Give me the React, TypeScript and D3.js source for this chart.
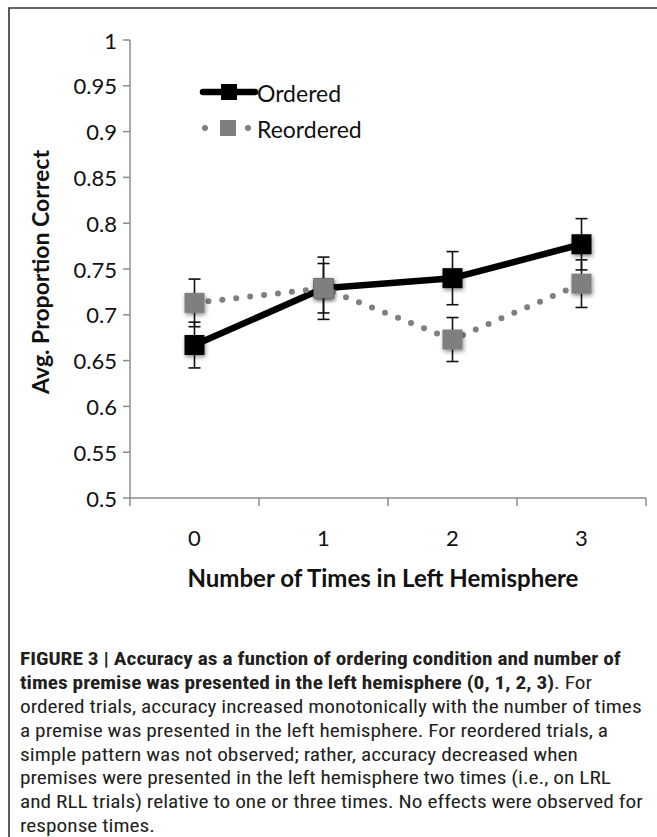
import { useEffect } from 'react';
import * as d3 from 'd3';

// chart data
const categories: string[] = ['0', '1', '2', '3'];
const orderedValues: number[] = [0.667, 0.729, 0.74, 0.777];
const orderedErrors: number[] = [0.025, 0.034, 0.029, 0.028];
const reorderedValues: number[] = [0.713, 0.729, 0.673, 0.734];
const reorderedErrors: number[] = [0.026, 0.027, 0.024, 0.026];
const yTicks: number[] = [0.5, 0.55, 0.6, 0.65, 0.7, 0.75, 0.8, 0.85, 0.9, 0.95, 1];

const captionLines: { bold: string; normal: string }[] = [
	{ bold: 'FIGURE 3 | Accuracy as a function of ordering condition and number of', normal: '' },
	{ bold: 'times premise was presented in the left hemisphere (0, 1, 2, 3)', normal: '. For' },
	{ bold: '', normal: 'ordered trials, accuracy increased monotonically with the number of times' },
	{ bold: '', normal: 'a premise was presented in the left hemisphere. For reordered trials, a' },
	{ bold: '', normal: 'simple pattern was not observed; rather, accuracy decreased when' },
	{ bold: '', normal: 'premises were presented in the left hemisphere two times (i.e., on LRL' },
	{ bold: '', normal: 'and RLL trials) relative to one or three times. No effects were observed for' },
	{ bold: '', normal: 'response times.' }
];

const W = 657;
const H = 837;
const plot = { left: 130, right: 646, top: 40, bottom: 498 };
const chartFont = 'Lato, "Open Sans", sans-serif';
const captionFont = '"Liberation Sans Narrow", "Roboto Condensed", "Liberation Sans", sans-serif';

function App() {
	useEffect(() => {
		document.body.style.margin = '0';
	}, []);

	const x = d3.scaleBand<string>().domain(categories).range([plot.left, plot.right]);
	const y = d3.scaleLinear().domain([0.5, 1]).range([plot.bottom, plot.top]);
	const cx = (c: string) => (x(c) ?? 0) + x.bandwidth() / 2;

	const line = d3
		.line<number>()
		.x((_, i) => cx(categories[i]))
		.y((d) => y(d));

	const marker = 20;
	const cap = 6;

	const errorBars = (vals: number[], errs: number[]) =>
		vals.map((v, i) => {
			const px = cx(categories[i]);
			const y1 = y(v + errs[i]);
			const y2 = y(v - errs[i]);
			return (
				<g key={i} stroke='#111' strokeWidth={1.6}>
					<line x1={px} x2={px} y1={y1} y2={y2} />
					<line x1={px - cap} x2={px + cap} y1={y1} y2={y1} />
					<line x1={px - cap} x2={px + cap} y1={y2} y2={y2} />
				</g>
			);
		});

	const squares = (vals: number[], fill: string) =>
		vals.map((v, i) => (
			<rect
				key={i}
				x={cx(categories[i]) - marker / 2}
				y={y(v) - marker / 2}
				width={marker}
				height={marker}
				fill={fill}
				filter='url(#shadow)'
			/>
		));

	const tickEdges = [...categories.map((c) => x(c) ?? 0), plot.right];

	return (
		<svg width={W} height={H} style={{ display: 'block' }}>
			<defs>
				<filter id='shadow' x='-50%' y='-50%' width='200%' height='200%'>
					<feDropShadow dx='1' dy='2' stdDeviation='2' floodColor='#000' floodOpacity='0.45' />
				</filter>
			</defs>
			<rect x={0} y={0} width={W} height={H} fill='#fff' />
			{/* frame */}
			<path d={`M9,${H + 2} V8 H${W + 2}`} fill='none' stroke='#333' strokeWidth={1.6} />

			{/* y axis */}
			<line x1={plot.left} x2={plot.left} y1={plot.top} y2={plot.bottom} stroke='#8c8c8c' strokeWidth={1.5} />
			{yTicks.map((t) => (
				<g key={t}>
					<line x1={plot.left - 7} x2={plot.left} y1={y(t)} y2={y(t)} stroke='#8c8c8c' strokeWidth={1.5} />
					<text
						x={plot.left - 13}
						y={y(t)}
						textAnchor='end'
						dominantBaseline='central'
						fontFamily={chartFont}
						fontSize={22}
						fill='#111'
					>
						{String(t)}
					</text>
				</g>
			))}
			<text
				transform='translate(40, 272) rotate(-90)'
				textAnchor='middle'
				dominantBaseline='central'
				fontFamily={chartFont}
				fontWeight='bold'
				fontSize={23}
				fill='#111'
			>
				Avg. Proportion Correct
			</text>

			{/* x axis */}
			<line x1={plot.left} x2={plot.right} y1={plot.bottom} y2={plot.bottom} stroke='#8c8c8c' strokeWidth={1.5} />
			{tickEdges.map((e, i) => (
				<line key={i} x1={e} x2={e} y1={plot.bottom} y2={plot.bottom + 8} stroke='#8c8c8c' strokeWidth={1.5} />
			))}
			{categories.map((c) => (
				<text
					key={c}
					x={cx(c)}
					y={537}
					textAnchor='middle'
					dominantBaseline='central'
					fontFamily={chartFont}
					fontSize={22}
					fill='#111'
				>
					{c}
				</text>
			))}
			<text
				x={383}
				y={577}
				textAnchor='middle'
				dominantBaseline='central'
				fontFamily={chartFont}
				fontWeight='bold'
				fontSize={24}
				fill='#111'
			>
				Number of Times in Left Hemisphere
			</text>

			{/* ordered series */}
			<path d={line(orderedValues) ?? ''} fill='none' stroke='#000' strokeWidth={6.5} strokeLinejoin='round' />
			{errorBars(orderedValues, orderedErrors)}
			{squares(orderedValues, '#000')}

			{/* reordered series */}
			<path
				d={line(reorderedValues) ?? ''}
				fill='none'
				stroke='#7f7f7f'
				strokeWidth={6}
				strokeLinecap='round'
				strokeDasharray='0 14'
			/>
			{errorBars(reorderedValues, reorderedErrors)}
			{squares(reorderedValues, '#7f7f7f')}

			{/* legend */}
			<g>
				<line x1={203} x2={255} y1={92} y2={92} stroke='#000' strokeWidth={6.5} strokeLinecap='round' />
				<rect x={221} y={84} width={16} height={16} fill='#000' />
				<text x={257} y={93} dominantBaseline='central' fontFamily={chartFont} fontSize={23} fill='#111'>
					Ordered
				</text>
				<line
					x1={205}
					x2={249}
					y1={128}
					y2={128}
					stroke='#7f7f7f'
					strokeWidth={6}
					strokeLinecap='round'
					strokeDasharray='0 43'
				/>
				<rect x={220} y={120} width={16} height={16} fill='#7f7f7f' />
				<text x={257} y={129} dominantBaseline='central' fontFamily={chartFont} fontSize={23} fill='#111'>
					Reordered
				</text>
			</g>

			{/* caption */}
			<g transform='translate(20, 0) scale(1.22, 1)'>
				{captionLines.map((l, i) => (
					<text key={i} x={0} y={665 + i * 23.9} fontFamily={captionFont} fontSize={17.5} fill='#231f20'>
						{l.bold && <tspan fontWeight='bold'>{l.bold}</tspan>}
						{l.normal && <tspan>{l.normal}</tspan>}
					</text>
				))}
			</g>
		</svg>
	);
}

export default App;
